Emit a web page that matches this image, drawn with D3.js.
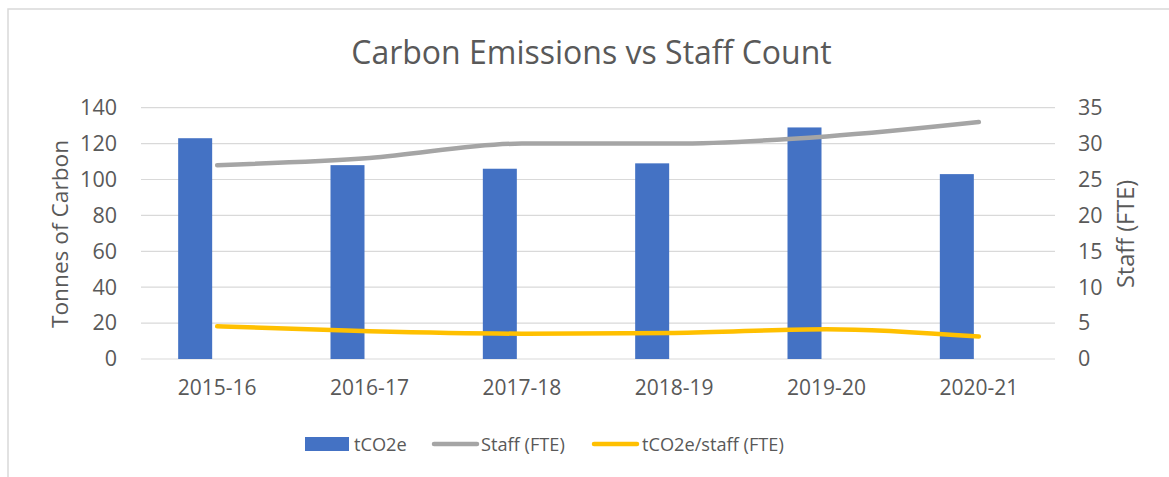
<!DOCTYPE html>
<html><head><meta charset="utf-8">
<script src="https://cdn.jsdelivr.net/npm/d3@7"></script>
<style>
html,body{margin:0;padding:0;background:#fff;}
text{font-family:"Open Sans",sans-serif;fill:#595959;}
</style></head>
<body><svg id="c" width="1169" height="477"></svg>
<script>
const categories = ["2015-16","2016-17","2017-18","2018-19","2019-20","2020-21"];
const tco2e = [123,108,106,109,129,103];
const staff = [27,28,30,30,31,33];
const perStaff = [4.55,3.86,3.53,3.63,4.16,3.12];
const leftTicks = [0,20,40,60,80,100,120,140];
const rightTicks = [0,5,10,15,20,25,30,35];

const svg = d3.select("#c");
const m = {left:141, right:1055, top:107.7, bottom:359};
svg.append("rect").attr("x",8).attr("y",9).attr("width",1200).attr("height",500)
  .attr("fill","#fff").attr("stroke","#d9d9d9").attr("stroke-width",1.5);

const x = d3.scaleBand().domain(categories).range([m.left,m.right]).padding(0);
const yL = d3.scaleLinear().domain([0,140]).range([m.bottom,m.top]);
const yR = d3.scaleLinear().domain([0,35]).range([m.bottom,m.top]);
const cx = c => x(c)+x.bandwidth()/2;

// gridlines
svg.append("g").selectAll("line").data(leftTicks).join("line")
  .attr("x1",m.left).attr("x2",m.right).attr("y1",d=>yL(d)).attr("y2",d=>yL(d))
  .attr("stroke","#d9d9d9").attr("stroke-width",1.2);

// axes (text only)
const axL = svg.append("g").attr("transform",`translate(${m.left},0)`)
  .call(d3.axisLeft(yL).tickValues(leftTicks).tickSize(0).tickPadding(24));
axL.select(".domain").remove();
axL.selectAll("text").attr("font-size",21.5).attr("fill","#595959").style("font-family","Open Sans");
const axR = svg.append("g").attr("transform",`translate(${m.right},0)`)
  .call(d3.axisRight(yR).tickValues(rightTicks).tickSize(0).tickPadding(23));
axR.select(".domain").remove();
axR.selectAll("text").attr("font-size",21.5).attr("fill","#595959").style("font-family","Open Sans");
const axB = svg.append("g").attr("transform",`translate(0,${m.bottom})`)
  .call(d3.axisBottom(x).tickSize(0).tickPadding(21));
axB.select(".domain").remove();
axB.selectAll("text").attr("font-size",21).attr("fill","#595959").style("font-family","Open Sans");

// bars (first of a two-slot cluster, second slot empty)
const barW = 34;
svg.append("g").selectAll("rect").data(categories).join("rect")
  .attr("x",(c)=>cx(c)-barW-5).attr("width",barW)
  .attr("y",(c,i)=>yL(tco2e[i])).attr("height",(c,i)=>yL(0)-yL(tco2e[i]))
  .attr("fill","#4472C4");

const line = (arr)=>d3.line().x((d,i)=>cx(categories[i])).y(d=>yR(d)).curve(d3.curveMonotoneX)(arr);
svg.append("path").attr("d",line(staff)).attr("fill","none").attr("stroke","#A5A5A5")
  .attr("stroke-width",4.5).attr("stroke-linecap","round").attr("stroke-linejoin","round");
svg.append("path").attr("d",line(perStaff)).attr("fill","none").attr("stroke","#FFC000")
  .attr("stroke-width",4.5).attr("stroke-linecap","round").attr("stroke-linejoin","round");

// titles
svg.append("text").attr("x",591.5).attr("y",64).attr("text-anchor","middle")
  .attr("font-size",32).text("Carbon Emissions vs Staff Count");
svg.append("text").attr("transform","translate(68,234) rotate(-90)").attr("text-anchor","middle")
  .attr("font-size",22.7).text("Tonnes of Carbon");
svg.append("text").attr("transform","translate(1134,234) rotate(-90)").attr("text-anchor","middle")
  .attr("font-size",23.5).text("Staff (FTE)");

// legend
const lg = svg.append("g");
lg.append("rect").attr("x",305).attr("y",437).attr("width",44).attr("height",14).attr("fill","#4472C4");
lg.append("text").attr("x",354).attr("y",450.5).attr("font-size",18.2).text("tCO2e");
lg.append("line").attr("x1",434).attr("x2",477).attr("y1",444).attr("y2",444)
  .attr("stroke","#A5A5A5").attr("stroke-width",4.5).attr("stroke-linecap","round");
lg.append("text").attr("x",481).attr("y",450.5).attr("font-size",18.2).text("Staff (FTE)");
lg.append("line").attr("x1",594).attr("x2",637).attr("y1",444).attr("y2",444)
  .attr("stroke","#FFC000").attr("stroke-width",4.5).attr("stroke-linecap","round");
lg.append("text").attr("x",642).attr("y",450.5).attr("font-size",18.2).text("tCO2e/staff (FTE)");
</script></body></html>
